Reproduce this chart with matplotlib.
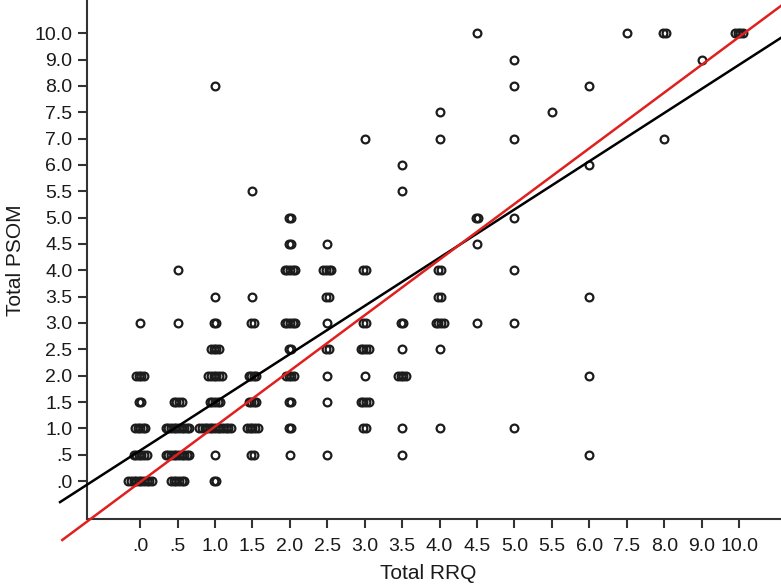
"""
Scatter of Total PSOM against Total RRQ (ordinal axes) with two fit lines
"""

import matplotlib
matplotlib.use("Agg")
import matplotlib.pyplot as plt

plt.rcParams['font.family'] = ['Liberation Sans', 'DejaVu Sans']

# category levels shown on the axes (equally spaced, ordinal)
rrq_levels = [0, 0.5, 1, 1.5, 2, 2.5, 3, 3.5, 4, 4.5, 5, 5.5, 6, 7.5, 8, 9, 10]
psom_levels = [0, 0.5, 1, 1.5, 2, 2.5, 3, 3.5, 4, 4.5, 5, 5.5, 6, 7, 7.5, 8, 9, 10]

# observed (rrq, psom) pairs and how many cases sit on each pair
rrq = [0, 0.5, 1,
       0, 0.5, 1, 1.5, 2, 2.5, 3.5, 6,
       0, 0.5, 1, 1.5, 2, 3, 3.5, 4, 5,
       0, 0.5, 1, 1.5, 2, 2.5, 3,
       0, 1, 1.5, 2, 2.5, 3, 3.5, 6,
       1, 2, 2.5, 3, 3.5, 4,
       0, 0.5, 1, 1.5, 2, 2.5, 3, 3.5, 4, 4.5, 5,
       1, 1.5, 2.5, 4, 6,
       0.5, 2, 2.5, 3, 4, 5,
       2, 2.5, 4.5,
       2, 4.5, 5,
       1.5, 3.5,
       3.5, 6,
       3, 4, 5, 8,
       4, 5.5,
       1, 5, 6,
       5, 9,
       4.5, 7.5, 8, 10]
psom = [0, 0, 0,
        0.5, 0.5, 0.5, 0.5, 0.5, 0.5, 0.5, 0.5,
        1, 1, 1, 1, 1, 1, 1, 1, 1,
        1.5, 1.5, 1.5, 1.5, 1.5, 1.5, 1.5,
        2, 2, 2, 2, 2, 2, 2, 2,
        2.5, 2.5, 2.5, 2.5, 2.5, 2.5,
        3, 3, 3, 3, 3, 3, 3, 3, 3, 3, 3,
        3.5, 3.5, 3.5, 3.5, 3.5,
        4, 4, 4, 4, 4, 4,
        4.5, 4.5, 4.5,
        5, 5, 5,
        5.5, 5.5,
        6, 6,
        7, 7, 7, 7,
        7.5, 7.5,
        8, 8, 8,
        9, 9,
        10, 10, 10, 10]
cases = [10, 6, 2,
         6, 10, 1, 2, 1, 1, 1, 1,
         5, 10, 13, 5, 2, 2, 1, 1, 1,
         2, 4, 5, 4, 2, 1, 4,
         4, 6, 4, 4, 1, 1, 4, 1,
         4, 2, 2, 4, 1, 1,
         1, 1, 2, 2, 5, 1, 2, 2, 4, 1, 1,
         1, 1, 2, 2, 1,
         1, 5, 4, 2, 2, 1,
         2, 1, 1,
         2, 2, 1,
         1, 1,
         1, 1,
         1, 1, 1, 1,
         1, 1,
         1, 1, 1,
         1, 1,
         1, 1, 2, 4]

# fit lines in category-index units: (intercept, slope)
black_fit = (1.16, 0.915)
red_fit = (-0.04, 1.056)


def level_label(v):
    s = f"{v:.1f}"
    return s[1:] if s.startswith("0") else s


fig = plt.figure(figsize=(7.81, 5.88), dpi=100)
ax = fig.add_axes([87 / 781, 1 - 519 / 588, 1 - 87 / 781, 519 / 588])

# stacked duplicates are nudged sideways, centred on the category
step = 0.07
xs, ys = [], []
for xv, yv, n in zip(rrq, psom, cases):
    xi = rrq_levels.index(xv)
    yi = psom_levels.index(yv)
    for k in range(n):
        xs.append(xi + (k - (n - 1) / 2) * step)
        ys.append(yi)

ax.plot(xs, ys, linestyle='none', marker='o', markersize=5.6,
        markerfacecolor='none', markeredgecolor='#1c1c1c',
        markeredgewidth=1.6, zorder=3)

xlim = (-1.42, 17.12)
ylim = (-1.44, 18.26)
for (b0, b1), color, x0 in [(black_fit, 'black', -2.14), (red_fit, '#e0201e', -2.08)]:
    lx = [x0, xlim[1]]
    ly = [b0 + b1 * v for v in lx]
    ax.plot(lx, ly, color=color, linewidth=1.8, clip_on=False, zorder=4)

ax.set_xlim(*xlim)
ax.set_ylim(*ylim)

ax.set_xticks(range(len(rrq_levels)))
ax.set_xticklabels([level_label(v) for v in rrq_levels])
ax.set_yticks(range(len(psom_levels)))
ax.set_yticklabels([level_label(v) for v in psom_levels])

for side in ['top', 'right']:
    ax.spines[side].set_visible(False)
for side in ['left', 'bottom']:
    ax.spines[side].set_color('#333333')
    ax.spines[side].set_linewidth(1.5)

ax.tick_params(axis='both', direction='out', length=6.5, width=1.5,
               color='#333333', labelsize=14, labelcolor='#1a1a1a')
ax.tick_params(axis='x', pad=7)
ax.tick_params(axis='y', pad=4)

ax.set_xlabel('Total RRQ', fontsize=15, color='#1a1a1a')
ax.set_ylabel('Total PSOM', fontsize=15, color='#1a1a1a')
ax.xaxis.set_label_coords(0.491, -0.086)
ax.yaxis.set_label_coords(-0.089, 0.499)

fig.savefig('out.png', dpi=100)
plt.close(fig)
